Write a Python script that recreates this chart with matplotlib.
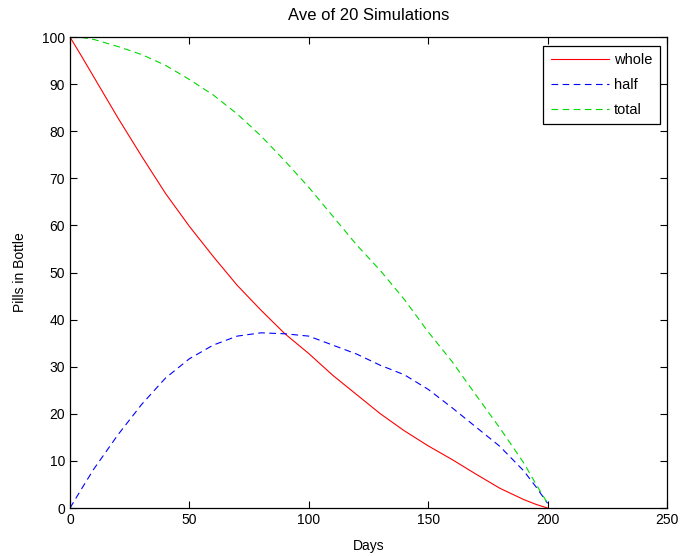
import matplotlib
matplotlib.use("Agg")
import matplotlib.pyplot as plt

plt.rcParams["font.family"] = ["Liberation Sans", "DejaVu Sans"]
plt.rcParams["font.size"] = 10

DAYS = [0, 5, 10, 20, 30, 40, 50, 60, 70, 80, 90, 100,
        110, 120, 130, 140, 150, 160, 170, 180, 190, 195, 200]
WHOLE = [100, 95.8, 91.5, 82.9, 74.7, 66.8, 59.8, 53.4, 47.3, 42.0, 37.0, 32.8,
         28.2, 24.1, 20.0, 16.4, 13.2, 10.3, 7.2, 4.2, 1.8, 0.8, 0.0]
HALF = [0, 4.2, 8.3, 15.5, 22.0, 27.6, 31.7, 34.6, 36.5, 37.2, 37.0, 36.5,
        34.6, 32.7, 30.3, 28.3, 25.2, 21.3, 17.2, 13.1, 7.9, 4.6, 1.0]
TOTAL = [100, 99.9, 99.5, 98.0, 96.3, 94.0, 91.0, 87.7, 83.7, 79.0, 73.7, 68.1,
         62.0, 55.9, 50.4, 44.3, 37.4, 31.1, 24.0, 17.0, 9.6, 5.2, 1.0]


def main():
    fig = plt.figure(figsize=(6.83, 5.56), dpi=100)
    ax = fig.add_axes([0.1025, 0.0863, 0.874, 0.847])

    ax.plot(DAYS, WHOLE, color=(1, 0, 0), lw=0.8, label="whole")
    ax.plot(DAYS, HALF, color=(0, 0, 1), lw=0.8, ls=(0, (6, 4)), label="half")
    ax.plot(DAYS, TOTAL, color=(0, 0.85, 0), lw=0.8, ls=(0, (6, 4)), label="total")

    ax.set_xlim(0, 250)
    ax.set_ylim(0, 100)
    ax.set_xticks(range(0, 251, 50))
    ax.set_yticks(range(0, 101, 10))
    ax.tick_params(direction="in", top=True, right=True, length=5, width=0.8)
    for sp in ax.spines.values():
        sp.set_linewidth(0.9)

    ax.set_title("Ave of 20 Simulations", pad=12)
    ax.set_xlabel("Days", labelpad=9)
    ax.set_ylabel("Pills in Bottle", labelpad=11)

    leg = ax.legend(loc="upper right", bbox_to_anchor=(0.988, 0.981),
                    borderaxespad=0, fancybox=False, framealpha=1,
                    edgecolor="black", handlelength=4.0, handletextpad=0.35,
                    labelspacing=0.75, borderpad=0.5, fontsize=10.5)
    leg.get_frame().set_linewidth(0.9)

    fig.savefig("out.png", dpi=100)


if __name__ == "__main__":
    main()
